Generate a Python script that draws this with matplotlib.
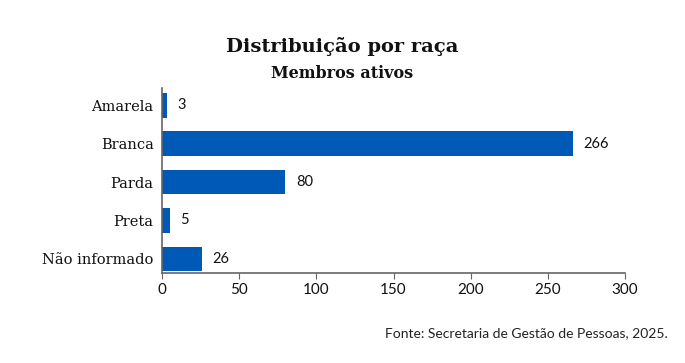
import matplotlib
matplotlib.use("Agg")
import matplotlib.pyplot as plt

categories = ["Amarela", "Branca", "Parda", "Preta", "Não informado"]
values = [3, 266, 80, 5, 26]
xticks = [0, 50, 100, 150, 200, 250, 300]

fig = plt.figure(figsize=(6.85, 3.63), dpi=100)
ax = fig.add_axes([162/685, 1-273/363, (625-162)/685, (273-88)/363])
color = "#0058B7"
ax.barh(range(len(categories)), values, height=0.64, color=color)
ax.set_ylim(4.37, -0.45)
ax.set_xlim(0, 300)
ax.set_xticks(xticks)
ax.set_xticklabels([str(t) for t in xticks], fontfamily="Lato", fontsize=11, color="#111111")
ax.set_yticks(range(len(categories)))
ax.set_yticklabels(categories, fontfamily="DejaVu Serif", fontsize=10.5, color="#111111")
ax.tick_params(axis="y", length=0, pad=6)
ax.tick_params(axis="x", length=4, color="#666666", pad=3)
for s in ["top", "right"]:
    ax.spines[s].set_visible(False)
for s in ["left", "bottom"]:
    ax.spines[s].set_color("#666666")
    ax.spines[s].set_linewidth(1.2)

for i, v in enumerate(values):
    ax.annotate(str(v), (v, i), xytext=(7.5, 0), textcoords="offset points",
                va="center", ha="left", fontfamily="Lato", fontsize=10.5, color="#111111")

fig.text(0.5, 1-47/363, "Distribuição por raça", ha="center", va="center",
         fontfamily="DejaVu Serif", fontweight="bold", fontsize=14, color="#111111")
fig.text(0.5, 1-73/363, "Membros ativos", ha="center", va="center",
         fontfamily="DejaVu Serif", fontweight="bold", fontsize=11.5, color="#111111")
fig.text(668/685, 1-333/363, "Fonte: Secretaria de Gestão de Pessoas, 2025.", ha="right", va="center",
         fontfamily="Lato", fontsize=10, color="#222222")

fig.savefig("out.png", dpi=100)
